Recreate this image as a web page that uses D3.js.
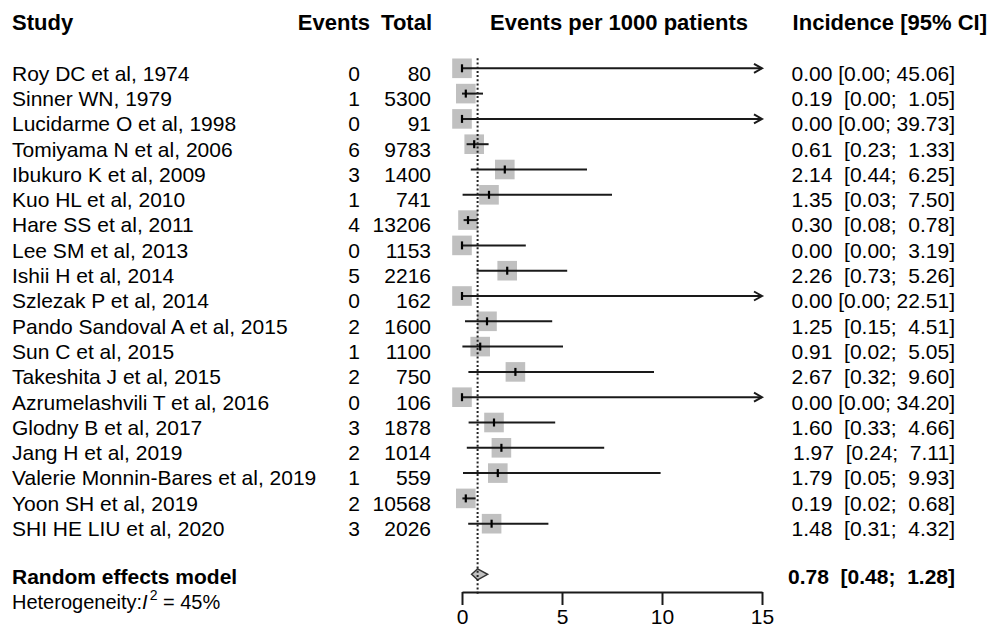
<!DOCTYPE html>
<html>
<head>
<meta charset="utf-8">
<script src="https://cdn.jsdelivr.net/npm/d3@7/dist/d3.min.js"></script>
<style>
  html, body { margin: 0; padding: 0; background: #fff; }
  svg { display: block; font-family: "Liberation Sans", Arial, sans-serif; }
  text { white-space: pre; }
</style>
</head>
<body>
<svg id="chart" width="990" height="628"></svg>
<script>
const studies = [
  "Roy DC et al, 1974", "Sinner WN, 1979", "Lucidarme O et al, 1998",
  "Tomiyama N et al, 2006", "Ibukuro K et al, 2009", "Kuo HL et al, 2010",
  "Hare SS et al, 2011", "Lee SM et al, 2013", "Ishii H et al, 2014",
  "Szlezak P et al, 2014", "Pando Sandoval A et al, 2015", "Sun C et al, 2015",
  "Takeshita J et al, 2015", "Azrumelashvili T et al, 2016", "Glodny B et al, 2017",
  "Jang H et al, 2019", "Valerie Monnin-Bares et al, 2019", "Yoon SH et al, 2019",
  "SHI HE LIU et al, 2020"
];
const events = [0, 1, 0, 6, 3, 1, 4, 0, 5, 0, 2, 1, 2, 0, 3, 2, 1, 2, 3];
const totals = [80, 5300, 91, 9783, 1400, 741, 13206, 1153, 2216, 162, 1600, 1100, 750, 106, 1878, 1014, 559, 10568, 2026];
const estimate = [0.00, 0.19, 0.00, 0.61, 2.14, 1.35, 0.30, 0.00, 2.26, 0.00, 1.25, 0.91, 2.67, 0.00, 1.60, 1.97, 1.79, 0.19, 1.48];
const lower = [0.00, 0.00, 0.00, 0.23, 0.44, 0.03, 0.08, 0.00, 0.73, 0.00, 0.15, 0.02, 0.32, 0.00, 0.33, 0.24, 0.05, 0.02, 0.31];
const upper = [45.06, 1.05, 39.73, 1.33, 6.25, 7.50, 0.78, 3.19, 5.26, 22.51, 4.51, 5.05, 9.60, 34.20, 4.66, 7.11, 9.93, 0.68, 4.32];
const pooled = [0.78, 0.48, 1.28];   // estimate, lower, upper
const i2 = 45;
const xTicks = [0, 5, 10, 15];
const headers = ["Study", "Events", "Total", "Events per 1000 patients", "Incidence [95% CI]"];

const svg = d3.select("#chart");
const x = d3.scaleLinear().domain([0, 15]).range([462, 762]);
const y = d3.scaleLinear().domain([0, 18]).range([68.3, 523.7]);
const f2 = d3.format(".2f");
function ciText(e, l, u) {
  return u >= 10 ? `${f2(e)} [${f2(l)}; ${f2(u)}]` : `${f2(e)}  [${f2(l)};  ${f2(u)}]`;
}
const data = studies.map((s, i) => ({s, ev: events[i], n: totals[i], e: estimate[i], l: lower[i], u: upper[i], i}));
const lineCol = "#1a1a1a";

// headers
const hy = y(-2) + 12.3;
const hg = svg.append("g").attr("font-weight", "bold").attr("font-size", 22).attr("fill", "#000");
hg.append("text").attr("x", 12).attr("y", hy).text(headers[0]);
hg.append("text").attr("x", 370).attr("y", hy).attr("text-anchor", "end").text(headers[1]);
hg.append("text").attr("x", 432).attr("y", hy).attr("text-anchor", "end").text(headers[2]);
hg.append("text").attr("x", 619).attr("y", hy).attr("text-anchor", "middle").text(headers[3]);
hg.append("text").attr("x", 987).attr("y", hy).attr("text-anchor", "end").text(headers[4]);

// row texts
const tg = svg.append("g").attr("font-size", 21).attr("fill", "#000");
const rows = tg.selectAll("g.row").data(data).join("g").attr("class", "row");
rows.append("text").attr("x", 12).attr("y", d => y(d.i) + 12.3).text(d => d.s);
rows.append("text").attr("x", 360).attr("y", d => y(d.i) + 12.3).attr("text-anchor", "end").text(d => d.ev);
rows.append("text").attr("x", 431).attr("y", d => y(d.i) + 12.3).attr("text-anchor", "end").text(d => d.n);
rows.append("text").attr("x", 955).attr("y", d => y(d.i) + 12.3).attr("text-anchor", "end").text(d => ciText(d.e, d.l, d.u));

// boxes
const box = 19.6;
svg.append("g").selectAll("rect").data(data).join("rect")
  .attr("x", d => x(d.e) - box / 2).attr("y", d => y(d.i) - box / 2)
  .attr("width", box).attr("height", box).attr("fill", "#c0c0c0");

// CI lines
const xmax = x.domain()[1];
svg.append("g").selectAll("line").data(data).join("line")
  .attr("x1", d => x(d.l)).attr("x2", d => x(Math.min(d.u, xmax)))
  .attr("y1", d => y(d.i)).attr("y2", d => y(d.i))
  .attr("stroke", lineCol).attr("stroke-width", 2);
// arrows for truncated CIs
svg.append("g").selectAll("path").data(data.filter(d => d.u > xmax)).join("path")
  .attr("d", d => `M${x(xmax) - 8},${y(d.i) - 4.5}L${x(xmax)},${y(d.i)}L${x(xmax) - 8},${y(d.i) + 4.5}`)
  .attr("fill", "none").attr("stroke", lineCol).attr("stroke-width", 2);
// estimate ticks
svg.append("g").selectAll("line").data(data).join("line")
  .attr("x1", d => x(d.e)).attr("x2", d => x(d.e))
  .attr("y1", d => y(d.i) - 4).attr("y2", d => y(d.i) + 4)
  .attr("stroke", "#000").attr("stroke-width", 2.2);

// pooled diamond
const ry = y(20);
svg.append("path")
  .attr("d", `M${x(pooled[1])},${ry}L${x(pooled[0])},${ry - 5.5}L${x(pooled[2])},${ry}L${x(pooled[0])},${ry + 5.5}Z`)
  .attr("fill", "#c0c0c0").attr("stroke", "#333").attr("stroke-width", 1.5);

// dotted reference line
svg.append("line")
  .attr("x1", x(pooled[0])).attr("x2", x(pooled[0]))
  .attr("y1", y(0) - 10).attr("y2", 596)
  .attr("stroke", "#222").attr("stroke-width", 2).attr("stroke-dasharray", "2,2.2");

// pooled texts
const pg = svg.append("g").attr("font-size", 21).attr("font-weight", "bold");
pg.append("text").attr("x", 12).attr("y", ry + 9.5).text("Random effects model");
pg.append("text").attr("x", 955).attr("y", ry + 9.5).attr("text-anchor", "end").text(ciText(pooled[0], pooled[1], pooled[2]));

const het = svg.append("text").attr("x", 12).attr("y", 609).attr("font-size", 20);
het.append("tspan").text("Heterogeneity:");
het.append("tspan").attr("font-style", "italic").text("I");
het.append("tspan").attr("font-size", 14).attr("dx", 2).attr("dy", -9).text("2");
het.append("tspan").attr("dy", 9).text(` = ${i2}%`);

// axis
const axis = svg.append("g").attr("transform", "translate(0,592)")
  .call(d3.axisBottom(x).tickValues(xTicks).tickSize(13).tickSizeOuter(0).tickPadding(4));
axis.select(".domain").attr("stroke", lineCol).attr("stroke-width", 2);
axis.selectAll(".tick line").attr("stroke", lineCol).attr("stroke-width", 2);
axis.selectAll(".tick text").attr("font-size", 21).attr("font-family", "Liberation Sans, Arial, sans-serif").attr("fill", "#000");
</script>
</body>
</html>
